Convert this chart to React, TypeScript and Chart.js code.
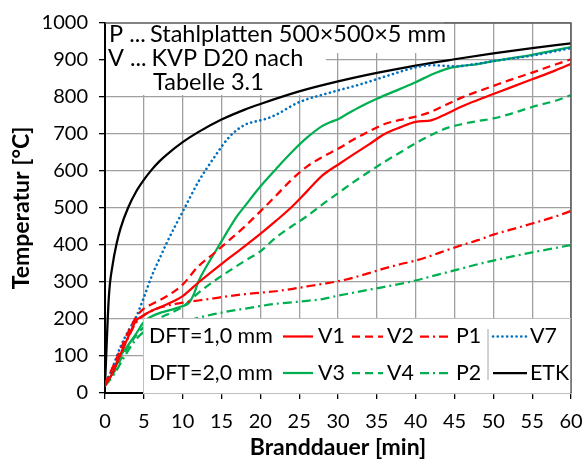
import React, { useEffect, useRef } from "react";
import { Chart, registerables } from "chart.js";
Chart.register(...registerables);

const FONT = "Lato";

// Time axis values [min]
const tCommon = [0, 1, 2, 3, 4, 5, 6, 8, 10, 12, 14, 16, 18, 20, 22, 24, 26, 28, 30, 32, 34, 36, 38, 40, 42, 44, 46, 48, 50, 52, 55, 58, 60];
// DFT = 1,0 mm
const V1 = [20, 55, 105, 152, 195, 210, 222, 240, 262, 298, 332, 365, 397, 430, 465, 502, 545, 588, 617, 645, 672, 700, 718, 733, 737, 755, 775, 792, 808, 824, 848, 872, 890];
const V2 = [25, 70, 118, 165, 205, 228, 240, 262, 293, 342, 377, 413, 450, 491, 533, 576, 612, 638, 660, 685, 707, 727, 738, 747, 760, 780, 799, 815, 830, 845, 866, 888, 902];
const P1 = [20, 60, 105, 150, 190, 210, 222, 236, 244, 250, 256, 262, 267, 271, 275, 281, 288, 295, 302, 312, 324, 337, 348, 358, 371, 386, 400, 413, 428, 440, 458, 477, 492];
const tV7 = [0, 1, 2, 3, 4, 5, 6, 7, 8, 9, 10, 12, 14, 16, 18, 19, 20, 21, 22, 25, 29, 33, 36, 40, 42, 45, 48, 50, 55, 60];
const V7 = [20, 70, 125, 168, 205, 258, 315, 362, 408, 450, 490, 570, 635, 692, 725, 732, 737, 743, 752, 786, 812, 835, 855, 880, 886, 883, 890, 897, 912, 932];
// DFT = 2,0 mm
const tV3 = [0, 1, 2, 3, 4, 5, 6, 7, 8, 9, 10, 10.7, 11.5, 12, 13, 14, 15, 16, 17, 18, 20, 22, 24, 26, 28, 29, 30, 31, 33, 35, 38, 40, 42, 44, 46, 48, 50, 55, 60];
const V3 = [20, 55, 100, 130, 160, 192, 207, 216, 222, 228, 235, 241, 270, 300, 340, 375, 410, 445, 478, 505, 558, 605, 650, 690, 722, 732, 740, 752, 775, 795, 822, 840, 860, 876, 884, 889, 897, 914, 935];
const V4 = [20, 50, 90, 125, 155, 178, 193, 212, 233, 270, 302, 330, 357, 383, 420, 450, 478, 510, 540, 570, 598, 625, 650, 675, 697, 716, 727, 735, 742, 753, 773, 790, 805];
const P2 = [20, 45, 80, 115, 145, 165, 175, 183, 190, 203, 213, 221, 228, 235, 241, 245, 249, 254, 263, 271, 279, 287, 295, 304, 315, 326, 337, 348, 358, 367, 380, 392, 400];
// Einheits-Temperaturzeitkurve
const tETK = [0, 0.5, 1, 1.5, 2, 3, 4, 5, 6, 7, 8, 10, 12, 15, 18, 20, 25, 30, 35, 40, 45, 50, 55, 60];
const ETK = [20, 261, 349, 404, 445, 502, 544, 576, 603, 626, 645, 678, 705, 739, 766, 781, 815, 842, 865, 885, 902, 918, 932, 945];

const xTicks = [0, 5, 10, 15, 20, 25, 30, 35, 40, 45, 50, 55, 60];
const yTicks = [0, 100, 200, 300, 400, 500, 600, 700, 800, 900, 1000];

const RED = "#ff0000";
const GREEN = "#00b050";
const BLUE = "#0070c0";
const BLACK = "#000000";
const DASH = [8, 5];
const DASHDOT = [9, 4, 2, 4];
const DOT = [0.1, 4.6];

const pts = (t: number[], v: number[]) => t.map((x, i) => ({ x, y: v[i] }));

const overlay = {
  id: "overlay",
  beforeDatasetsDraw(chart: any) {
    const ctx = chart.ctx;
    ctx.save();
    ctx.fillStyle = "#ffffff";
    ctx.fillRect(106, 21, 338, 32);
    ctx.fillRect(106, 53, 220, 42);
    ctx.fillStyle = "#000";
    ctx.font = `23.5px ${FONT}`;
    ctx.textBaseline = "alphabetic";
    ctx.textAlign = "left";
    ctx.fillText("P ...", 109, 42);
    ctx.fillText("Stahlplatten 500×500×5 mm", 150, 42);
    ctx.fillText("V ...", 108, 66);
    ctx.fillText("KVP D20 nach", 151.5, 66);
    ctx.fillText("Tabelle 3.1", 153, 89.5);
    ctx.restore();
  },
  afterDraw(chart: any) {
    const ctx = chart.ctx;
    const a = chart.chartArea;
    ctx.save();
    // plot border top/right
    ctx.strokeStyle = "#595959";
    ctx.lineWidth = 1.5;
    ctx.beginPath();
    ctx.moveTo(a.left, a.top);
    ctx.lineTo(a.right, a.top);
    ctx.lineTo(a.right, a.bottom);
    ctx.stroke();
    // legend box
    const lx = 143, ly = 318;
    ctx.fillStyle = "#ffffff";
    ctx.fillRect(lx, ly, a.right - lx - 0.75, a.bottom + 1.2 - ly);
    ctx.strokeStyle = "#bfbfbf";
    ctx.lineWidth = 1;
    ctx.beginPath();
    ctx.moveTo(a.right, ly + 0.5);
    ctx.lineTo(lx + 0.5, ly + 0.5);
    ctx.lineTo(lx + 0.5, a.bottom + 0.5);
    ctx.lineTo(a.right, a.bottom + 0.5);
    ctx.stroke();
    // separator
    ctx.strokeStyle = "#a6a6a6";
    ctx.beginPath();
    ctx.moveTo(488, 329);
    ctx.lineTo(488, 380);
    ctx.stroke();

    ctx.font = `21.4px ${FONT}`;
    ctx.fillStyle = "#000";
    ctx.textBaseline = "middle";
    ctx.textAlign = "left";
    const rows = [336.5, 373];
    ctx.fillText("DFT=1,0 mm", 149, rows[0]);
    ctx.fillText("DFT=2,0 mm", 149, rows[1]);
    const cols = [
      { x0: 283, x1: 313, lx: 318 },
      { x0: 352, x1: 383, lx: 387 },
      { x0: 420, x1: 452, lx: 456 },
      { x0: 493, x1: 527, lx: 530 },
    ];
    const layout = [
      [0, 1, 2, 3],
      [4, 5, 6, 7],
    ];
    layout.forEach((row, r) => {
      row.forEach((di, c) => {
        const ds = chart.data.datasets[di];
        const col = cols[c];
        const y = rows[r];
        ctx.save();
        ctx.strokeStyle = ds.borderColor;
        ctx.lineWidth = ds.borderWidth;
        ctx.lineCap = ds.borderCapStyle || "butt";
        ctx.setLineDash(ds.borderDash || []);
        ctx.beginPath();
        ctx.moveTo(col.x0, y);
        ctx.lineTo(col.x1, y);
        ctx.stroke();
        ctx.restore();
        ctx.fillText(ds.label, col.lx, y);
      });
    });
    ctx.restore();
  },
};

export default function App() {
  const ref = useRef<HTMLCanvasElement | null>(null);
  useEffect(() => {
    if (!ref.current) return;
    const mk = (label: string, t: number[], v: number[], color: string, dash: number[], width = 2.25, cap = "butt") => ({
      label,
      data: pts(t, v),
      borderColor: color,
      backgroundColor: color,
      borderWidth: width,
      borderDash: dash,
      borderCapStyle: cap,
      pointRadius: 0,
      fill: false,
      cubicInterpolationMode: "monotone",
    });
    const tickFont = { family: FONT, size: 20 };
    const titleFont = { family: FONT, size: 23, weight: "bold" as const };
    const chart = new Chart(ref.current, {
      type: "line",
      data: {
        datasets: [
          mk("V1", tCommon, V1, RED, []),
          mk("V2", tCommon, V2, RED, DASH),
          mk("P1", tCommon, P1, RED, DASHDOT),
          mk("V7", tV7, V7, BLUE, DOT, 2.6, "round"),
          mk("V3", tV3, V3, GREEN, []),
          mk("V4", tCommon, V4, GREEN, DASH),
          mk("P2", tCommon, P2, GREEN, DASHDOT),
          mk("ETK", tETK, ETK, BLACK, []),
        ] as any,
      },
      options: {
        animation: false,
        responsive: false,
        devicePixelRatio: 1,
        layout: { padding: { top: 20, right: 16, left: 0, bottom: 0 } },
        plugins: { legend: { display: false }, tooltip: { enabled: false } },
        scales: {
          x: {
            type: "linear",
            min: 0,
            max: 60,
            afterBuildTicks: (s: any) => {
              s.ticks = xTicks.map((v) => ({ value: v }));
            },
            ticks: { font: { family: FONT, size: 20, lineHeight: 1.9 }, color: "#000", padding: 4, maxRotation: 0, autoSkip: false, callback: (v: any) => String(v) },
            grid: { color: "#a0a0a0", lineWidth: 1.3, tickColor: "#000", tickLength: 6, drawTicks: true },
            border: { color: "#000", width: 2 },
            title: { display: true, text: "Branddauer [min]", font: titleFont, color: "#000", padding: { top: 0, bottom: 1 } },
            afterFit: (s: any) => {
              s.height = 69;
            },
          },
          y: {
            type: "linear",
            min: 0,
            max: 1000,
            afterBuildTicks: (s: any) => {
              s.ticks = yTicks.map((v) => ({ value: v }));
            },
            ticks: { font: tickFont, color: "#000", padding: 11, autoSkip: false, callback: (v: any) => String(v) },
            grid: { color: "#a0a0a0", lineWidth: 1.3, tickColor: "#000", tickLength: 6, drawTicks: true },
            border: { color: "#000", width: 2 },
            title: { display: true, text: "Temperatur [°C]", font: titleFont, color: "#000", padding: { top: 8, bottom: 0 } },
            afterFit: (s: any) => {
              s.width = 105;
            },
          },
        },
      } as any,
      plugins: [overlay],
    });
    return () => chart.destroy();
  }, []);
  return (
    <div style={{ position: "absolute", left: 0, top: 0, width: 587, height: 462, background: "#fff" }}>
      <canvas ref={ref} width={587} height={462} style={{ width: 587, height: 462, display: "block" }} />
    </div>
  );
}
